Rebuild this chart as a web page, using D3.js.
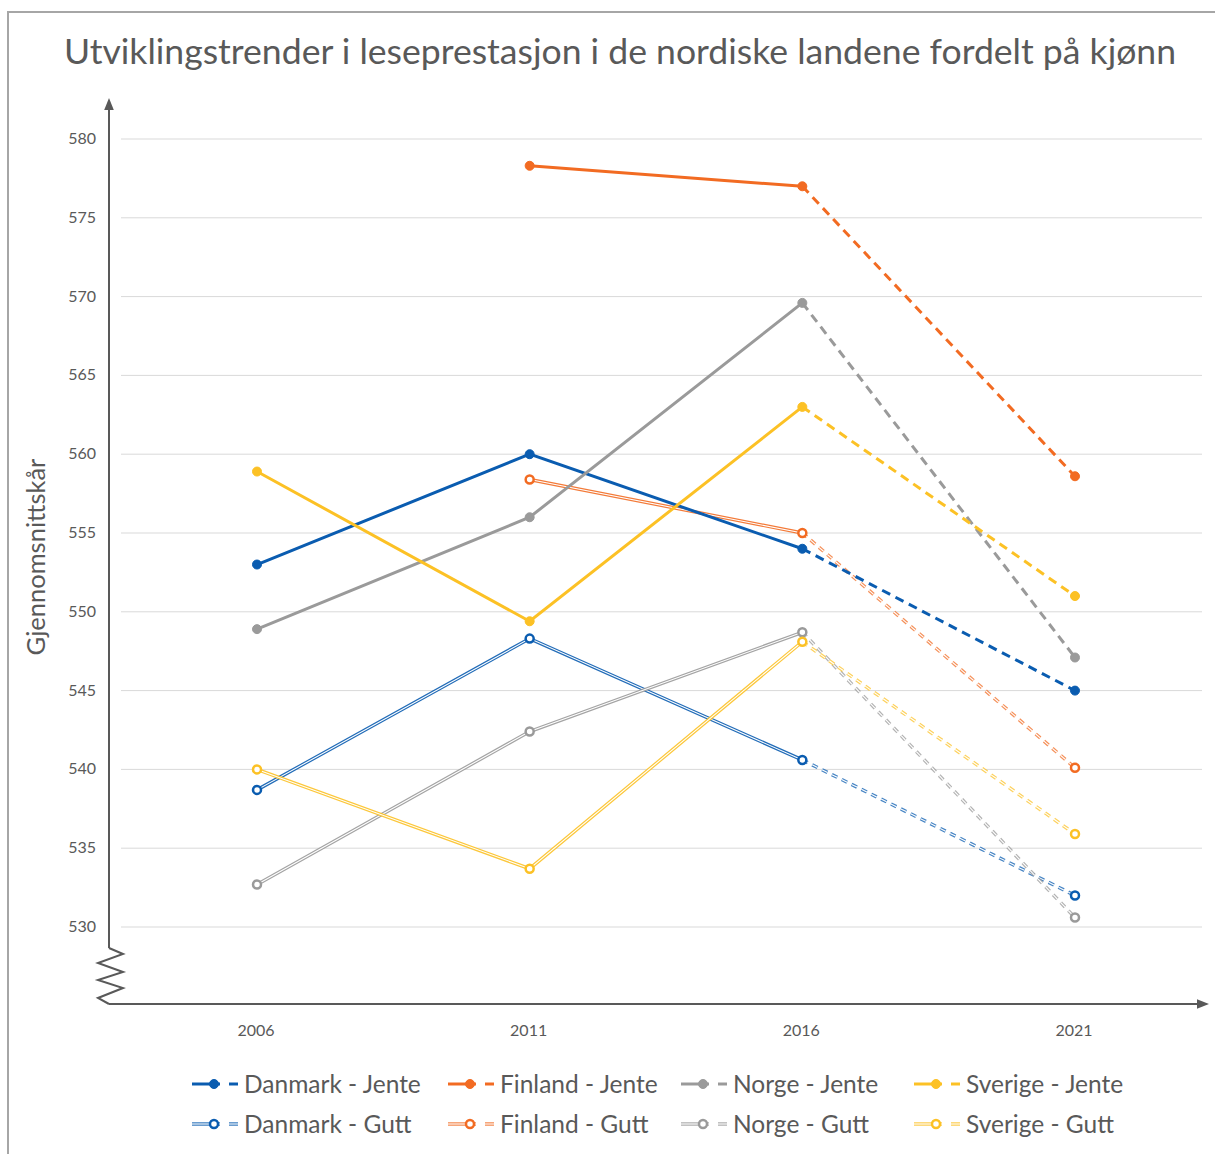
<!DOCTYPE html>
<html>
<head>
<meta charset="utf-8">
<script src="https://cdn.jsdelivr.net/npm/d3@7"></script>
<style>
  body { margin: 0; background: #fff; }
  text { font-family: Lato, "Open Sans", sans-serif; fill: #595959; }
</style>
</head>
<body>
<script>
// Chart data
var years = [2006, 2011, 2016, 2021];
var yTicks = [530, 535, 540, 545, 550, 555, 560, 565, 570, 575, 580];

var danmarkJente = [553.0, 560.0, 554.0, 545.0];
var finlandJente = [null, 578.3, 577.0, 558.6];
var norgeJente   = [548.9, 556.0, 569.6, 547.1];
var sverigeJente = [558.9, 549.4, 563.0, 551.0];
var danmarkGutt  = [538.7, 548.3, 540.6, 532.0];
var finlandGutt  = [null, 558.4, 555.0, 540.1];
var norgeGutt    = [532.7, 542.4, 548.7, 530.6];
var sverigeGutt  = [540.0, 533.7, 548.1, 535.9];

var seriesNames = ["Danmark - Jente", "Finland - Jente", "Norge - Jente", "Sverige - Jente",
                   "Danmark - Gutt", "Finland - Gutt", "Norge - Gutt", "Sverige - Gutt"];
var seriesValues = [danmarkJente, finlandJente, norgeJente, sverigeJente,
                    danmarkGutt, finlandGutt, norgeGutt, sverigeGutt];
var colors = ["#0a5cb0", "#f26b22", "#9a9a9a", "#fcc125"];

// SVG area
var svgWidth = 1215;
var svgHeight = 1154;

var svg = d3.select("body")
  .append("svg")
  .attr("width", svgWidth)
  .attr("height", svgHeight);

var defs = svg.append("defs");
defs.append("marker")
  .attr("id", "arrow")
  .attr("viewBox", "0 0 10 10")
  .attr("refX", 5).attr("refY", 5)
  .attr("markerWidth", 6).attr("markerHeight", 6)
  .attr("orient", "auto")
  .append("path")
  .attr("d", "M0,1 L10,5 L0,9 z")
  .attr("fill", "#595959");

// outer frame (runs off the right and bottom edges)
svg.append("rect")
  .attr("x", 8).attr("y", 12)
  .attr("width", 1230).attr("height", 1170)
  .attr("fill", "none")
  .attr("stroke", "#a6a6a6")
  .attr("stroke-width", 2);

// title
svg.append("text")
  .attr("x", 620).attr("y", 64)
  .attr("text-anchor", "middle")
  .style("font-size", "35.6px")
  .text("Utviklingstrender i leseprestasjon i de nordiske landene fordelt på kjønn");

// scales
var xScale = d3.scaleLinear().domain([2006, 2021]).range([257, 1075]);
var yScale = d3.scaleLinear().domain([530, 580]).range([927, 139]);

// gridlines
svg.append("g")
  .selectAll("line")
  .data(yTicks)
  .enter()
  .append("line")
  .attr("x1", 121).attr("x2", 1202)
  .attr("y1", d => yScale(d)).attr("y2", d => yScale(d))
  .attr("stroke", "#d9d9d9")
  .attr("stroke-width", 1);

// y tick labels
svg.append("g")
  .selectAll("text")
  .data(yTicks)
  .enter()
  .append("text")
  .attr("x", 96)
  .attr("y", d => yScale(d) + 5)
  .attr("text-anchor", "end")
  .style("font-size", "16px")
  .text(d => d);

// x tick labels
svg.append("g")
  .selectAll("text")
  .data(years)
  .enter()
  .append("text")
  .attr("x", d => xScale(d) - 1)
  .attr("y", 1036)
  .attr("text-anchor", "middle")
  .style("font-size", "16px")
  .text(d => d);

// axes with break mark
var axisX = 109, axisY = 1004;
svg.append("line")
  .attr("x1", axisX).attr("y1", 948)
  .attr("x2", axisX).attr("y2", 104)
  .attr("stroke", "#595959").attr("stroke-width", 2)
  .attr("marker-end", "url(#arrow)");
svg.append("path")
  .attr("d", d3.line()([[axisX, 948], [123, 954], [98, 963], [123, 972], [98, 980],
                        [123, 988], [98, 998], [axisX, axisY]]))
  .attr("fill", "none")
  .attr("stroke", "#595959").attr("stroke-width", 2);
svg.append("line")
  .attr("x1", axisX).attr("y1", axisY)
  .attr("x2", 1203).attr("y2", axisY)
  .attr("stroke", "#595959").attr("stroke-width", 2)
  .attr("marker-end", "url(#arrow)");

// y axis title
svg.append("text")
  .attr("transform", "translate(45, 557) rotate(-90)")
  .attr("text-anchor", "middle")
  .style("font-size", "25.5px")
  .text("Gjennomsnittskår");

// draw series: solid up to 2016, dashed 2016-2021
var lineGen = d3.line()
  .defined(d => d.v != null)
  .x(d => xScale(d.year))
  .y(d => yScale(d.v));

var plot = svg.append("g");

function drawSeg(g, pts, color, gutt, dashed) {
  if (gutt) {
    g.append("path").attr("d", lineGen(pts))
      .attr("fill", "none").attr("stroke", color)
      .attr("stroke-width", 3.5).attr("opacity", dashed ? 0.75 : 0.9)
      .attr("stroke-dasharray", dashed ? "6,5" : null);
    g.append("path").attr("d", lineGen(pts))
      .attr("fill", "none").attr("stroke", "#fff")
      .attr("stroke-width", 1.1)
      .attr("stroke-dasharray", dashed ? "6,5" : null);
  } else {
    g.append("path").attr("d", lineGen(pts))
      .attr("fill", "none").attr("stroke", color)
      .attr("stroke-width", 3)
      .attr("stroke-dasharray", dashed ? "9,6" : null);
  }
}

// gutt first, then jente on top
[4, 5, 6, 7, 0, 1, 2, 3].forEach(function(i) {
  var color = colors[i % 4];
  var gutt = i >= 4;
  var pts = years.map((y, k) => ({ year: y, v: seriesValues[i][k] }));
  var g = plot.append("g");
  drawSeg(g, pts.slice(0, 3), color, gutt, false);
  drawSeg(g, pts.slice(2, 4), color, gutt, true);
  g.selectAll("circle")
    .data(pts.filter(d => d.v != null))
    .enter()
    .append("circle")
    .attr("cx", d => xScale(d.year))
    .attr("cy", d => yScale(d.v))
    .attr("r", gutt ? 4 : 4.5)
    .attr("fill", gutt ? "#fff" : color)
    .attr("stroke", color)
    .attr("stroke-width", gutt ? 2.5 : 1);
});

// legend
var legendX = [192, 448, 681, 914];
var legendY = [1084, 1124];
var legend = svg.append("g");
seriesNames.forEach(function(name, i) {
  var color = colors[i % 4];
  var gutt = i >= 4;
  var lx = legendX[i % 4];
  var ly = legendY[gutt ? 1 : 0];
  var g = legend.append("g").attr("transform", `translate(${lx}, ${ly})`);
  var segs = [[[0, 0], [28, 0]], [[37, 0], [46, 0]]];
  segs.forEach(function(s) {
    g.append("path").attr("d", d3.line()(s))
      .attr("stroke", color).attr("stroke-width", gutt ? 3.5 : 3)
      .attr("opacity", gutt ? 0.8 : 1);
    if (gutt) {
      g.append("path").attr("d", d3.line()(s))
        .attr("stroke", "#fff").attr("stroke-width", 1.1);
    }
  });
  g.append("circle")
    .attr("cx", 22).attr("cy", 0)
    .attr("r", gutt ? 4 : 4.5)
    .attr("fill", gutt ? "#fff" : color)
    .attr("stroke", color)
    .attr("stroke-width", gutt ? 2.5 : 1);
  g.append("text")
    .attr("x", 52).attr("y", 8.5)
    .style("font-size", "24.5px")
    .text(name);
});
</script>
</body>
</html>
